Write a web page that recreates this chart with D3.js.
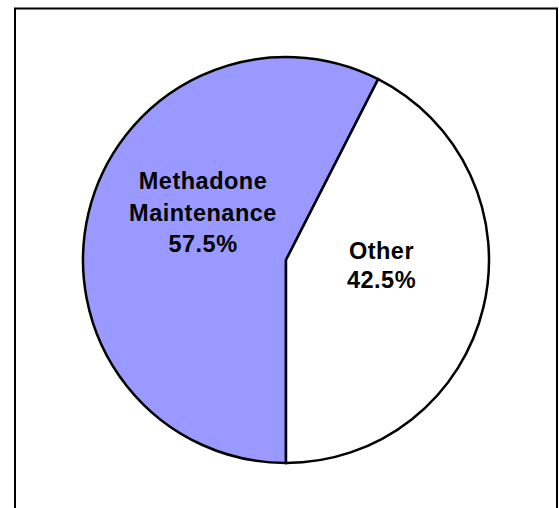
<!DOCTYPE html>
<html>
<head>
<meta charset="utf-8">
<script src="https://cdn.jsdelivr.net/npm/d3@7"></script>
<style>
  html, body { margin: 0; padding: 0; background: #fff; }
  svg { display: block; }
  text { font-family: "Liberation Sans", Arial, sans-serif; font-weight: bold; fill: #000; }
</style>
</head>
<body>
<svg id="chart" width="559" height="508"></svg>
<script>
// Treatment share data
const categories = ["Methadone Maintenance", "Other"];
const shares = [57.5, 42.5];
const labelLines = [["Methadone", "Maintenance", "57.5%"], ["Other", "42.5%"]];
const sliceColors = ["#9999FF", "#FFFFFF"];

const svg = d3.select("#chart");

// outer chart frame
svg.append("rect")
  .attr("x", 15).attr("y", 8.5)
  .attr("width", 542).attr("height", 520)
  .attr("fill", "#fff")
  .attr("stroke", "#000").attr("stroke-width", 2);

const cx = 286, cy = 260, r = 203;
const g = svg.append("g").attr("transform", `translate(${cx},${cy})`);

// first slice starts at the bottom and runs clockwise
const pie = d3.pie().sort(null).value(d => d)
  .startAngle(Math.PI).endAngle(3 * Math.PI);
const arcs = pie(shares);
const arc = d3.arc().innerRadius(0).outerRadius(r);

g.selectAll("path.slice")
  .data(arcs)
  .join("path")
  .attr("class", "slice")
  .attr("d", arc)
  .attr("fill", (d, i) => sliceColors[i])
  .attr("stroke", "#000")
  .attr("stroke-width", 2.5)
  .attr("stroke-linejoin", "miter");

// label anchor points (relative to the pie centre) and line spacing
const labelAnchors = [[-83, -71], [95.5, -1]];
const lineGaps = [31.6, 29.3];

arcs.forEach((a, i) => {
  const t = g.append("text")
    .attr("text-anchor", "middle")
    .style("font-size", "23.5px")
    .style("letter-spacing", "0.5px");
  labelLines[i].forEach((line, j) => {
    t.append("tspan")
      .attr("x", labelAnchors[i][0])
      .attr("y", labelAnchors[i][1] + j * lineGaps[i])
      .text(line);
  });
});
</script>
</body>
</html>
